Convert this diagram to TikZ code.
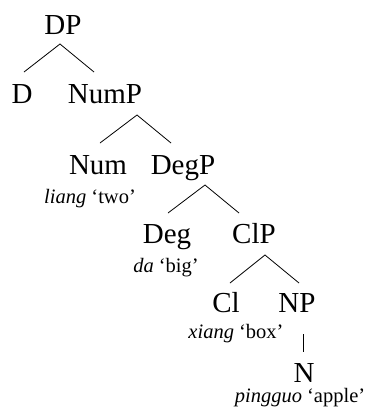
\documentclass[tikz,border=0pt]{standalone}
\usepackage{fontspec}
\setmainfont{Liberation Serif}
\begin{document}
\begin{tikzpicture}[x=1pt,y=-1pt,
  cat/.style={anchor=base,inner sep=0pt,font=\fontsize{29}{29}\selectfont},
  gloss/.style={anchor=base,inner sep=0pt,font=\fontsize{20.5}{20.5}\selectfont},
  branch/.style={draw=black,line width=0.8pt}]
\useasboundingbox (0,0) rectangle (374,416);
% categories
\node[cat] (DP)   at (63,34)   {DP};
\node[cat] (D)    at (22,103)  {D};
\node[cat] (NumP) at (105,103) {NumP};
\node[cat] (Num)  at (98,174)  {Num};
\node[cat] (DegP) at (183,174) {DegP};
\node[cat] (Deg)  at (167,243) {Deg};
\node[cat] (ClP)  at (254,243) {ClP};
\node[cat] (Cl)   at (226,312) {Cl};
\node[cat] (NP)   at (297,312) {NP};
\node[cat] (N)    at (304,382) {N};
% glosses
\node[gloss] (g1) at (90,203)  {\textit{liang} ‘two’};
\node[gloss] (g2) at (166,272) {\textit{da} ‘big’};
\node[gloss] (g3) at (236,338) {\textit{xiang} ‘box’};
\node[gloss] (g4) at (300,402) {\textit{pingguo} ‘apple’};
% branch points
\coordinate (DPa)   at (60,44);
\coordinate (Dt)    at (24,72);
\coordinate (NumPt) at (94,72);
\coordinate (NumPa) at (137,115);
\coordinate (Numt)  at (100,143);
\coordinate (DegPt) at (171,143);
\coordinate (DegPa) at (205,185);
\coordinate (Degt)  at (168,213);
\coordinate (ClPt)  at (239,213);
\coordinate (ClPa)  at (265,255);
\coordinate (Clt)   at (230,283);
\coordinate (NPt)   at (299,283);
\coordinate (NPa)   at (303,334);
\coordinate (Nt)    at (303,352);
% branches
\draw[branch] (Dt) -- (DPa) -- (NumPt);
\draw[branch] (Numt) -- (NumPa) -- (DegPt);
\draw[branch] (Degt) -- (DegPa) -- (ClPt);
\draw[branch] (Clt) -- (ClPa) -- (NPt);
\draw[branch] (NPa) -- (Nt);
\end{tikzpicture}
\end{document}
